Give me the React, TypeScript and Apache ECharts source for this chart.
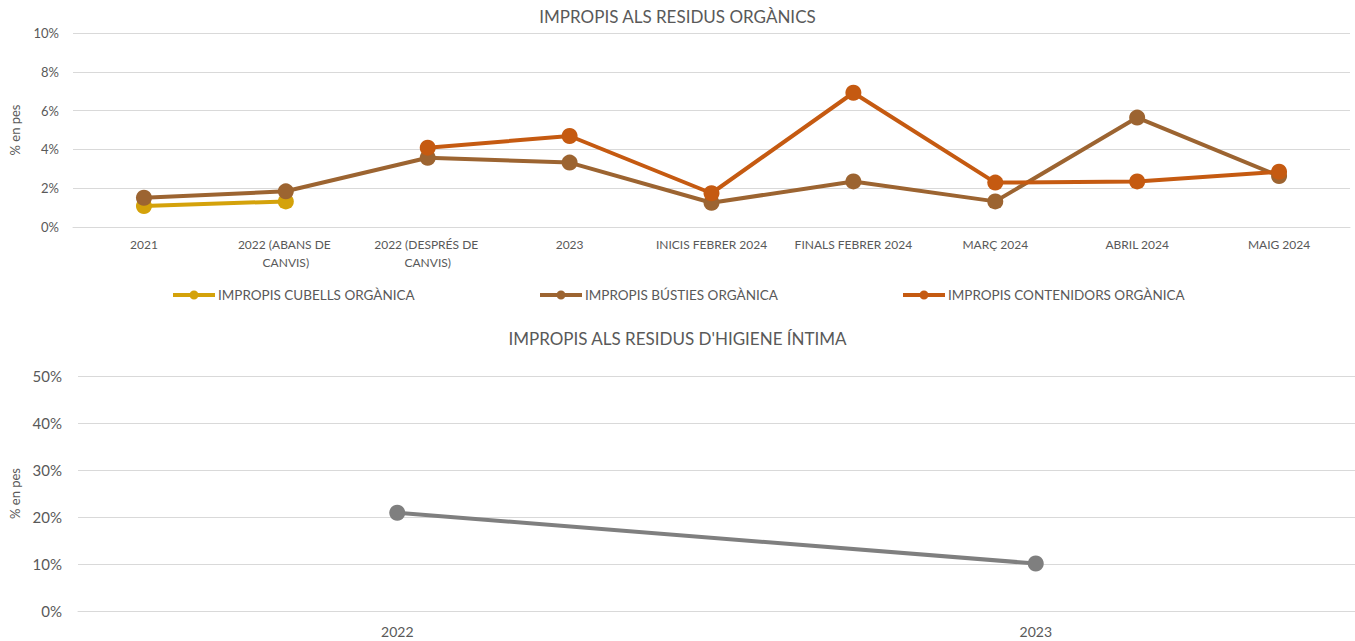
import React, { useEffect, useRef } from "react";
import * as echarts from "echarts";

const topCategories = [
  "2021",
  "2022 (ABANS DE CANVIS)",
  "2022 (DESPRÉS DE CANVIS)",
  "2023",
  "INICIS FEBRER 2024",
  "FINALS FEBRER 2024",
  "MARÇ 2024",
  "ABRIL 2024",
  "MAIG 2024",
];
const cubells = [1.08, 1.32, null, null, null, null, null, null, null];
const busties = [1.51, 1.84, 3.57, 3.32, 1.25, 2.35, 1.32, 5.64, 2.63];
const contenidors = [null, null, 4.09, 4.69, 1.74, 6.92, 2.29, 2.35, 2.85];

const bottomCategories = ["2022", "2023"];
const higiene = [20.9, 10.1];

const seriesNames = [
  "IMPROPIS CUBELLS ORGÀNICA",
  "IMPROPIS BÚSTIES ORGÀNICA",
  "IMPROPIS CONTENIDORS ORGÀNICA",
];
const colors = ["#D4A20A", "#9C6431", "#C55A11"];
const grayColor = "#7F7F7F";
const textColor = "#595959";
const gridColor = "#D9D9D9";
const font = "Lato, 'Open Sans', sans-serif";

const legendIcon =
  "path://M0,4 L42,4 L42,8 L0,8 Z M21,1.5 A4.5,4.5 0 1 1 21,10.5 A4.5,4.5 0 1 1 21,1.5 Z";

export default function App() {
  const ref = useRef<HTMLDivElement>(null);
  useEffect(() => {
    if (!ref.current) return;
    const chart = echarts.init(ref.current, null, { renderer: "svg" });
    const lineSeries = (name: string, data: any[], color: string) => ({
      name,
      type: "line",
      xAxisIndex: 0,
      yAxisIndex: 0,
      data,
      color,
      symbol: "circle",
      symbolSize: 16,
      lineStyle: { width: 4, color },
      itemStyle: { color },
      connectNulls: false,
    });
    chart.setOption({
      animation: false,
      textStyle: { fontFamily: font },
      title: [
        {
          text: "IMPROPIS ALS RESIDUS ORGÀNICS",
          left: "center",
          top: 3,
          textStyle: { fontFamily: font, fontSize: 17, fontWeight: "normal", color: textColor },
        },
        {
          text: "IMPROPIS ALS RESIDUS D'HIGIENE ÍNTIMA",
          left: "center",
          top: 325,
          textStyle: { fontFamily: font, fontSize: 17, fontWeight: "normal", color: textColor },
        },
      ],
      legend: seriesNames.map((n, i) => ({
        data: [n],
        left: [173, 540, 903][i],
        top: 288,
        padding: 0,
        icon: legendIcon,
        itemWidth: 42,
        itemHeight: 12,
        itemGap: 0,
        textStyle: { fontFamily: font, fontSize: 13.5, color: textColor, padding: [0, 0, 0, -2] },
      })),
      grid: [
        { left: 72, width: 1278, top: 33, height: 194 },
        { left: 78, width: 1278, top: 376, height: 235 },
      ],
      xAxis: [
        {
          type: "category",
          gridIndex: 0,
          data: topCategories,
          boundaryGap: true,
          axisLine: { show: true, lineStyle: { color: gridColor, width: 1 } },
          axisTick: { show: false },
          axisLabel: {
            color: textColor,
            fontFamily: font,
            fontSize: 12,
            margin: 8,
            interval: 0,
            width: 125,
            overflow: "break",
            lineHeight: 18,
          },
        },
        {
          type: "category",
          gridIndex: 1,
          data: bottomCategories,
          boundaryGap: true,
          axisLine: { show: true, lineStyle: { color: gridColor, width: 1 } },
          axisTick: { show: false },
          axisLabel: { color: textColor, fontFamily: font, fontSize: 14, margin: 13 },
        },
      ],
      yAxis: [
        {
          type: "value",
          gridIndex: 0,
          min: 0,
          max: 10,
          interval: 2,
          name: "% en pes",
          nameLocation: "middle",
          nameRotate: 90,
          nameGap: 52,
          nameTextStyle: { color: textColor, fontFamily: font, fontSize: 13 },
          axisLine: { show: false },
          axisTick: { show: false },
          axisLabel: { formatter: "{value}%", color: textColor, fontFamily: font, fontSize: 13, margin: 14 },
          splitLine: { lineStyle: { color: gridColor, width: 1 } },
        },
        {
          type: "value",
          gridIndex: 1,
          min: 0,
          max: 50,
          interval: 10,
          name: "% en pes",
          nameLocation: "middle",
          nameRotate: 90,
          nameGap: 57,
          nameTextStyle: { color: textColor, fontFamily: font, fontSize: 13 },
          axisLine: { show: false },
          axisTick: { show: false },
          axisLabel: { formatter: "{value}%", color: textColor, fontFamily: font, fontSize: 15, margin: 16 },
          splitLine: { lineStyle: { color: gridColor, width: 1 } },
        },
      ],
      series: [
        lineSeries(seriesNames[0], cubells, colors[0]),
        lineSeries(seriesNames[1], busties, colors[1]),
        lineSeries(seriesNames[2], contenidors, colors[2]),
        {
          name: "HIGIENE",
          type: "line",
          xAxisIndex: 1,
          yAxisIndex: 1,
          data: higiene,
          symbol: "circle",
          symbolSize: 16,
          lineStyle: { width: 4, color: grayColor },
          itemStyle: { color: grayColor },
        },
      ],
    });
    return () => chart.dispose();
  }, []);
  return (
    <div
      ref={ref}
      style={{ position: "fixed", left: 0, top: 0, width: 1355, height: 641, background: "#fff" }}
    />
  );
}
